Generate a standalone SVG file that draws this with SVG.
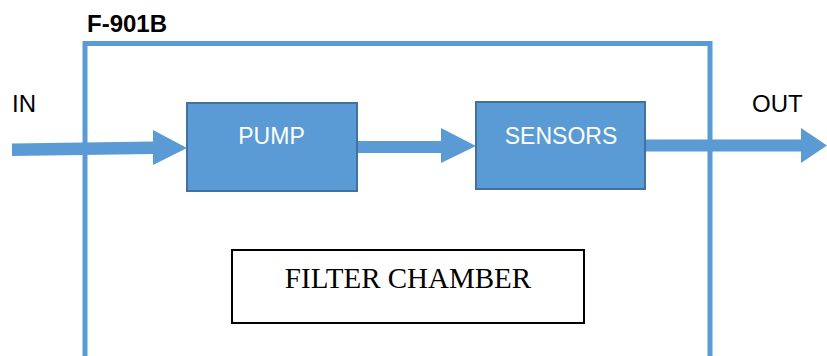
<svg xmlns="http://www.w3.org/2000/svg" width="827" height="356" viewBox="0 0 827 356">
<style>
.lbl{font-family:"Liberation Sans",Arial,sans-serif;font-size:24px;fill:#000}
.box{fill:#5B9BD5;stroke:#41719C;stroke-width:2}
.btxt{font-family:"Liberation Sans",Arial,sans-serif;font-size:23px;fill:#fff;text-anchor:middle}
.flow{fill:#5B9BD5}
</style>
<rect width="827" height="356" fill="#fff"/>
<g id="chamber">
<path d="M85,356 V43.5 H710 V356" fill="none" stroke="#5B9BD5" stroke-width="5"/>
<text x="87" y="32" class="lbl" font-weight="bold">F-901B</text>
</g>
<g id="connectors">
<polygon class="flow" points="12,143.5 153,141.5 153,130 187,148 153,165 153,154 12,156"/>
<polygon class="flow" points="357,141 441,141 441,128 476,146 441,163 441,153 357,153"/>
<polygon class="flow" points="645,139.5 801,139.5 801,128 827,145.5 801,163 801,151.5 645,151.5"/>
</g>
<g id="in"><text x="12" y="112" class="lbl">IN</text></g>
<g id="out"><text x="752" y="112" class="lbl">OUT</text></g>
<g id="pump">
<rect class="box" x="187" y="103" width="170" height="88"/>
<text x="271.5" y="144" class="btxt">PUMP</text>
</g>
<g id="sensors">
<rect class="box" x="476" y="102" width="169" height="87"/>
<text x="561" y="144" class="btxt">SENSORS</text>
</g>
<g id="filter">
<rect x="232" y="250" width="352" height="73" fill="#fff" stroke="#000" stroke-width="2"/>
<text x="408" y="288" font-family="'Liberation Serif','Times New Roman',serif" font-size="29" text-anchor="middle" fill="#000">FILTER CHAMBER</text>
</g>
</svg>
